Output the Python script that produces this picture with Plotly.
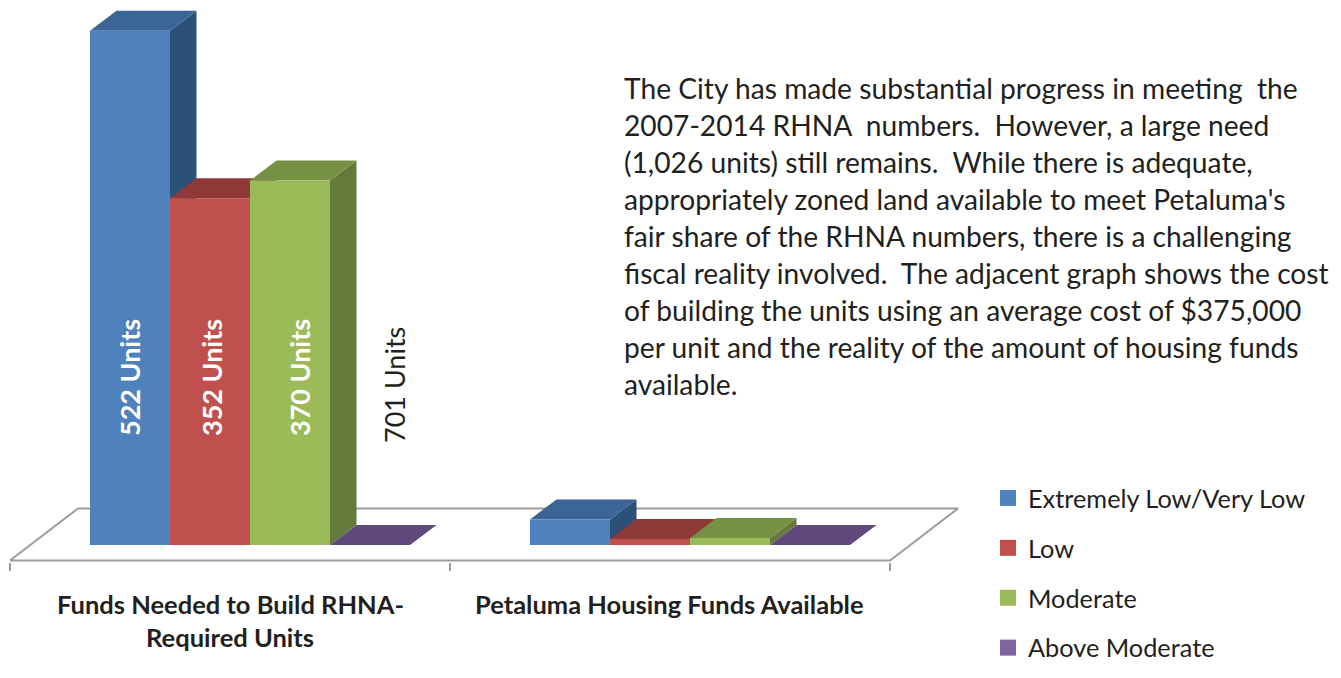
import plotly.graph_objects as go

# ---------- data ----------
series_names = ["Extremely Low/Very Low", "Low", "Moderate", "Above Moderate"]
extremely_low = [522, 26]
low = [352, 6]
moderate = [370, 7]
above_moderate = [0, 0]
unit_labels = ["522 Units", "352 Units", "370 Units", "701 Units"]
category_lines = [["Funds Needed to Build RHNA-", "Required Units"],
                  ["Petaluma Housing Funds Available"]]
paragraph = [
    "The City has made substantial progress in meeting  the",
    "2007-2014 RHNA  numbers.  However, a large need",
    "(1,026 units) still remains.  While there is adequate,",
    "appropriately zoned land available to meet Petaluma's",
    "fair share of the RHNA numbers, there is a challenging",
    "fiscal reality involved.  The adjacent graph shows the cost",
    "of building the units using an average cost of $375,000",
    "per unit and the reality of the amount of housing funds",
    "available.",
]

# ---------- styling / geometry ----------
front = ["#4F81BD", "#C0504D", "#9BBB59", "#8064A2"]
top = ["#3A6594", "#8F3A38", "#769044", "#604A7B"]
side = ["#2C5178", "#7A3230", "#657A3A", "#503D68"]
FONT = "Lato"
TEXT = "#231F20"
W, H = 1341, 678
L, R, B = 10, 1341, 562         # plot box in pixels
BASE_PX = 545                   # pixel row of value 0
FLOOR_PX = 560.5
PX_PER_UNIT = 0.985
PX_PER_SLOT = 80.0
SLOTS = (R - L) / PX_PER_SLOT
group_start = [1.0, 6.5]        # slot where each group begins
DX, DY = 26.5 / PX_PER_SLOT, 20.3   # bar depth in axis units
FDX, FDY = 68 / PX_PER_SLOT, 52.8   # floor depth in axis units
y_min = -(B - BASE_PX) / PX_PER_UNIT
y_max = BASE_PX / PX_PER_UNIT
floor_y = -(FLOOR_PX - BASE_PX) / PX_PER_UNIT


def px(x):
    return (x - L) / (R - L)


def py(y):
    return (B - y) / B


fig = go.Figure()


def poly(xs, ys, color):
    fig.add_trace(go.Scatter(x=xs + xs[:1], y=ys + ys[:1], mode="none", fill="toself",
                             fillcolor=color, showlegend=False, hoverinfo="skip"))


# floor
fig.add_trace(go.Scatter(x=[0, 11, 11 + FDX, FDX, 0],
                         y=[floor_y, floor_y, floor_y + FDY, floor_y + FDY, floor_y],
                         mode="lines", line=dict(color="#9C9C9C", width=2), showlegend=False,
                         hoverinfo="skip"))

values = [extremely_low, low, moderate, above_moderate]
for g, start in enumerate(group_start):
    for s, vals in enumerate(values):
        x0 = start + s
        x1 = x0 + 1
        v = vals[g]
        if v > 0:
            poly([x1, x1 + DX, x1 + DX, x1], [0, DY, v + DY, v], side[s])
        poly([x0, x1, x1 + DX, x0 + DX], [v, v, v + DY, v + DY], top[s])
        if v > 0:
            poly([x0, x1, x1, x0], [0, 0, v, v], front[s])

# legend
for s, name in enumerate(series_names):
    fig.add_trace(go.Scatter(x=[None], y=[None], mode="markers", name=name, legendgroup=name,
                             marker=dict(symbol="square", size=16, color=front[s])))

ann = []
# rotated unit labels
label_x = [130, 212, 300, 394]
label_y = [378, 378, 378, 385]
for i, t in enumerate(unit_labels):
    ann.append(dict(x=px(label_x[i]), y=py(label_y[i]), xref="paper", yref="paper",
                    text=t if i == 3 else f"<b>{t}</b>", textangle=-90,
                    showarrow=False, xanchor="center", yanchor="middle",
                    font=dict(family=FONT, size=27, color="#FFFFFF" if i < 3 else TEXT)))
# category labels
cat_center = [230, 669]
for c, lines in enumerate(category_lines):
    for i, line in enumerate(lines):
        ann.append(dict(x=px(cat_center[c]), y=py(604 + 33 * i), xref="paper", yref="paper",
                        text=f"<b>{line}</b>", showarrow=False, xanchor="center", yanchor="middle",
                        font=dict(family=FONT, size=25.5, color=TEXT)))
# paragraph
for i, line in enumerate(paragraph):
    ann.append(dict(x=px(622), y=py(88 + 37 * i), xref="paper", yref="paper", text=line,
                    showarrow=False, xanchor="left", yanchor="middle",
                    font=dict(family=FONT, size=28.2, color=TEXT)))

fig.update_layout(
    width=W, height=H, margin=dict(l=L, r=W - R, t=0, b=H - B, pad=0),
    paper_bgcolor="white", plot_bgcolor="white",
    font=dict(family=FONT, color=TEXT),
    showlegend=True,
    legend=dict(x=px(988), y=py(475), xanchor="left", yanchor="top", traceorder="grouped",
                tracegroupgap=14, font=dict(family=FONT, size=25.3, color=TEXT),
                bgcolor="rgba(0,0,0,0)"),
    annotations=ann,
    xaxis=dict(range=[0, SLOTS], showgrid=False, zeroline=False, showline=False,
               tickvals=[], showticklabels=False, ticks="",
               minor=dict(tickvals=[0, 5.5, 11], ticks="outside", ticklen=8, tickwidth=2,
                          tickcolor="#9C9C9C", showgrid=False)),
    yaxis=dict(range=[y_min, y_max], visible=False),
)

fig.write_html("out.html", config={"displayModeBar": False},
               post_script="document.body.style.margin='0';")
